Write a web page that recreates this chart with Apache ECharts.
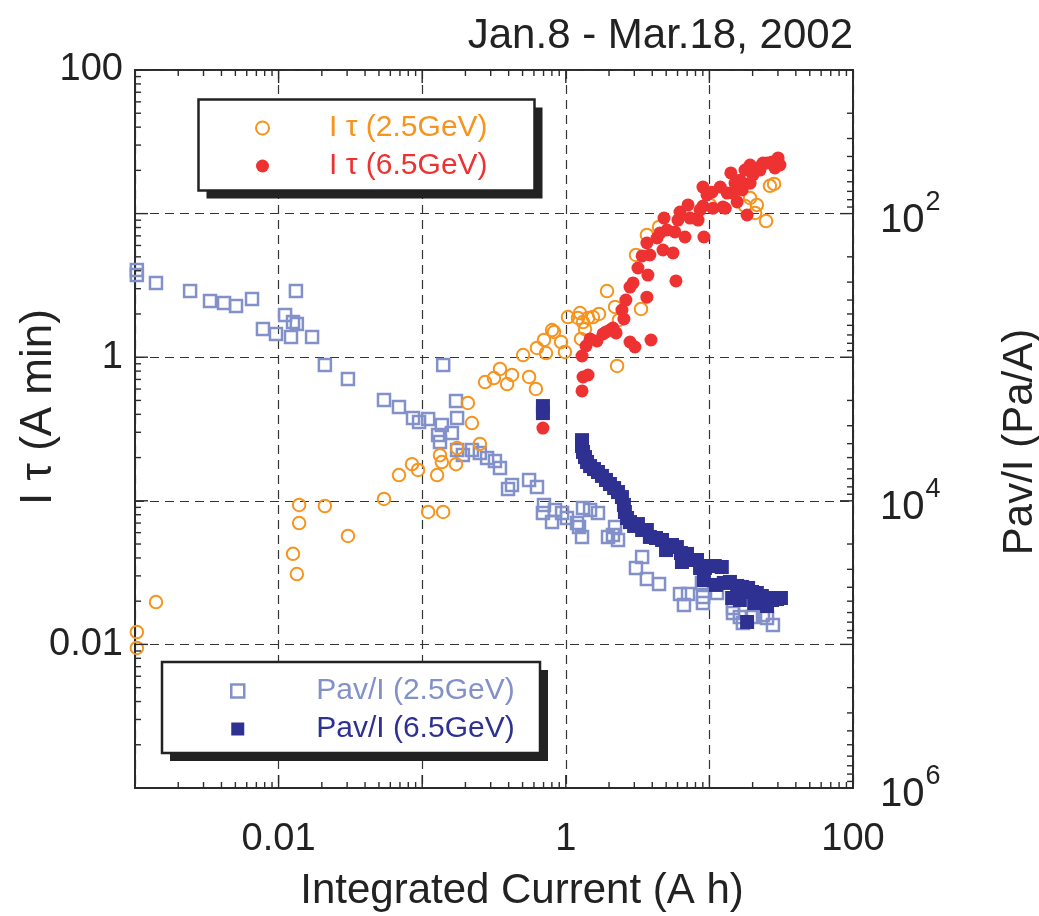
<!DOCTYPE html>
<html><head><meta charset="utf-8">
<script src="https://cdn.jsdelivr.net/npm/echarts@6/dist/echarts.min.js"></script>
<style>html,body{margin:0;padding:0;background:#fff}#c{width:1039px;height:916px}</style>
</head><body><div id="c"></div>
<script>
const FONT = '"Liberation Sans", Arial, Helvetica, sans-serif';
const TXT = '#222';
const AX = '#2b2b2b';
const ORANGE = '#F7941E', RED = '#EE3131', LBLUE = '#8391CB', NAVY = '#2E3192';

const NAME_IT25 = 'I \u03c4 (2.5GeV)';
const NAME_IT65 = 'I \u03c4 (6.5GeV)';
const NAME_P25 = 'Pav/I (2.5GeV)';
const NAME_P65 = 'Pav/I (6.5GeV)';

// I tau (2.5 GeV) : integrated current (A h), I tau (A min)
const it25X = [0.00103,0.00103,0.00140,0.0126,0.0134,0.0139,0.0139,0.0210,0.0304,0.0542,0.110,0.140,0.0689,0.0849,0.0935,0.127,0.133,0.137,0.172,0.175,0.252,0.208,0.222,0.274,0.316,0.348,0.390,0.422,0.555,0.619,0.504,0.630,0.705,0.728,0.802,0.828,0.927,0.986,1.035,1.216,1.256,1.318,1.429,1.545,1.702,1.361,1.276,1.936,2.203,2.344,3.34,2.275,3.08,3.67,4.46,10.1,17.7,19.2,21.4,20.8,24.8,26.4,28.2];
const it25Y = [0.00944,0.0122,0.0197,0.0427,0.0309,0.0700,0.0935,0.0920,0.0569,0.103,0.0836,0.0836,0.151,0.180,0.164,0.151,0.208,0.186,0.180,0.233,0.249,0.480,0.348,0.671,0.716,0.828,0.650,0.752,0.728,0.601,1.035,1.159,1.318,1.069,1.545,1.50,1.276,1.087,1.905,1.875,2.03,1.758,1.875,1.905,2.0,1.57,1.34,2.89,2.24,1.816,2.168,0.869,5.15,7.10,8.07,11.5,11.3,12.85,11.5,10.1,8.87,15.6,16.1];

// I tau (6.5 GeV)
const it65X = [0.693,0.693,1.297,1.318,1.429,1.297,1.383,1.476,1.648,1.816,2.03,2.24,2.80,3.03,3.92,2.54,2.46,2.62,3.67,2.80,2.94,5.85,3.18,3.73,3.40,3.85,3.67,4.32,4.75,5.58,4.53,5.07,5.75,6.76,9.16,4.83,6.04,6.24,7.10,7.33,8.34,8.61,9.02,9.02,9.62,10.4,10.6,12.4,11.9,13.3,14.1,15.1,16.3,17.7,19.2,21.4,23.6,27.3,30.1,31.0,15.6,18.3,16.9,19.2,14.6,20.1,25.2,12.9,1.905,2.13,22.5,28.6];
const it65Y = [0.321,0.422,0.582,0.728,0.752,1.019,1.197,1.34,1.297,1.452,1.545,1.476,1.276,1.178,1.318,1.845,2.13,2.50,2.62,3.08,3.29,3.40,4.18,3.73,5.07,5.15,6.24,6.76,5.58,5.32,7.33,7.69,7.45,6.87,6.87,9.31,9.02,10.26,11.5,9.31,9.02,10.6,11.3,15.3,13.5,14.1,10.9,11.1,15.3,13.9,19.2,16.3,17.1,20.1,21.8,20.8,22.5,22.9,24.4,21.8,12.05,9.78,14.6,16.3,13.9,18.6,22.5,10.9,1.50,1.596,20.1,20.8];

// Pav/I (2.5 GeV) : Pa/A
const p25X = [0.00103,0.00103,0.00140,0.00242,0.00333,0.00417,0.00505,0.00653,0.0132,0.0111,0.0126,0.0134,0.00778,0.00959,0.0122,0.0171,0.0210,0.0304,0.0542,0.0689,0.0863,0.0951,0.110,0.140,0.172,0.175,0.137,0.129,0.133,0.161,0.175,0.192,0.222,0.252,0.283,0.321,0.348,0.396,0.422,0.555,0.630,0.705,0.693,0.802,0.841,0.942,1.019,1.197,1.297,1.318,1.476,1.675,1.236,1.968,2.203,2.13,2.31,3.40,3.08,3.67,4.46,6.24,7.10,6.65,8.87,9.02,9.02,11.3,14.6,16.3,17.1,20.1,23.6,25.2,27.7,14.6];
const p25Y = [247,268,304,346,406,420,440,393,346,508,569,587,637,689,723,723,1132,1419,1986,2223,2650,2825,2692,1132,2018,2650,2966,3483,3898,3373,4426,4797,4426,4645,5035,5281,5910,8279,7762,7161,8017,10690,12160,14060,11590,12160,13180,14290,17860,11220,11590,12160,15210,17860,15210,17300,18750,24600,29380,35070,37940,44570,44570,53210,37330,46770,51520,43850,55800,64420,70960,64420,62370,65460,73280,60400];

// Pav/I (6.5 GeV)
const p65X = [0.693,0.693,1.297,1.297,1.318,1.361,1.406,1.476,1.571,1.675,1.786,1.905,2.03,2.17,2.31,2.46,2.54,2.58,2.67,2.80,2.99,3.18,3.40,3.67,3.85,4.25,4.68,4.99,5.49,5.94,6.34,6.98,6.44,7.57,8.20,8.61,9.31,10.1,9.16,10.9,12.2,11.1,12.6,13.9,14.4,15.6,16.9,18.6,19.8,21.4,23.2,25.2,27.3,29.6,31.5,16.3,20.5,25.2,18.3];
const p65Y = [2190,2450,3780,4150,4570,4960,5370,5730,6010,6300,6710,7160,7640,8150,8690,9420,10690,11970,13180,14060,14970,14520,15970,15970,17860,18160,18750,22030,20320,20990,23110,23440,26680,25830,25830,29380,29380,28440,35650,28440,28910,38550,37330,36730,47530,39170,39810,40460,43150,43850,46030,47530,49090,48310,47530,49090,51520,54050,69830];

const pairs = (xs, ys) => xs.map((v, i) => [v, ys[i]]);

// axis decades (tick structure)
const xDecades = [-3, -2, -1, 0, 1, 2];
const yLeftDecades = [-3, -2, -1, 0, 1, 2];
const yRightDecades = [1, 2, 3, 4, 5, 6];
const MAJOR = 13, MINOR = 6;

function tickList(decades, fixed, asY) {
  const out = [];
  decades.forEach((e, i) => {
    const base = Math.pow(10, e);
    out.push(asY ? [fixed, base, MAJOR] : [base, fixed, MAJOR]);
    if (i < decades.length - 1) {
      for (let k = 2; k <= 9; k++) {
        const v = k * base;
        out.push(asY ? [fixed, v, MINOR] : [v, fixed, MINOR]);
      }
    }
  });
  return out;
}

function line(x1, y1, x2, y2) {
  return {type: 'line', shape: {x1, y1, x2, y2}, style: {stroke: AX, lineWidth: 1.4}};
}
function renderXTicks(params, api) {
  const cs = params.coordSys;
  const p = api.coord([api.value(0), api.value(1)]);
  const L = api.value(2);
  const x = p[0];
  const b = cs.y + cs.height, t = cs.y;
  return {type: 'group', children: [line(x, b, x, b - L), line(x, t, x, t + L)]};
}
function renderLeftTicks(params, api) {
  const cs = params.coordSys;
  const p = api.coord([api.value(0), api.value(1)]);
  const L = api.value(2);
  return line(cs.x, p[1], cs.x + L, p[1]);
}
function renderRightTicks(params, api) {
  const cs = params.coordSys;
  const p = api.coord([api.value(0), api.value(1)]);
  const L = api.value(2);
  const r = cs.x + cs.width;
  return line(r, p[1], r - L, p[1]);
}

function fmtEven(v) {
  const e = Math.round(Math.log10(v));
  if (e % 2 !== 0) return '';
  return e >= 0 ? String(Math.pow(10, e)) : Math.pow(10, e).toFixed(-e);
}
function fmtPow(v) {
  const e = Math.round(Math.log10(v));
  if (e % 2 !== 0) return '';
  return '{b|10}{s|' + e + '}';
}

const chart = echarts.init(document.getElementById('c'), null, {renderer: 'canvas'});
const splitStyle = {show: true, lineStyle: {color: '#333', width: 1.2, type: [9, 6]}};
const legendBase = {
  orient: 'vertical', selectedMode: false, z: 12,
  itemWidth: 13, itemHeight: 13, itemGap: 8, padding: 0,
  backgroundColor: 'transparent', borderWidth: 0
};

// legend frames (decoration): white box with black drop shadow
function frame(x, y, w, h) {
  return [
    {type: 'rect', z: 10, silent: true, shape: {x: x + 8, y: y + 8, width: w, height: h}, style: {fill: '#222'}},
    {type: 'rect', z: 11, silent: true, shape: {x: x, y: y, width: w, height: h}, style: {fill: '#fff', stroke: '#222', lineWidth: 2.5}}
  ];
}

chart.setOption({
  animation: false,
  backgroundColor: '#fff',
  title: {
    text: 'Jan.8 - Mar.18, 2002', right: 186, top: 15, padding: 0,
    textStyle: {fontSize: 42, fontWeight: 'normal', color: TXT, fontFamily: FONT}
  },
  grid: {left: 135, right: 186, top: 70, bottom: 128, show: true, borderColor: AX, borderWidth: 2,
         containLabel: false, outerBoundsMode: 'none'},
  graphic: [].concat(frame(198.5, 99.5, 336, 91), frame(162, 662, 378, 91)),
  legend: [
    Object.assign({}, legendBase, {
      left: 255, top: 113,
      textStyle: {fontSize: 30, lineHeight: 30, fontFamily: FONT, padding: [0, 0, 0, 55]},
      data: [
        {name: NAME_IT25, icon: 'circle', itemStyle: {color: 'rgba(255,255,255,0)', borderColor: ORANGE, borderWidth: 2, opacity: 1}, textStyle: {color: ORANGE}},
        {name: NAME_IT65, icon: 'circle', itemStyle: {color: RED, borderWidth: 0, opacity: 1}, textStyle: {color: RED}}
      ]
    }),
    Object.assign({}, legendBase, {
      left: 230, top: 676,
      textStyle: {fontSize: 30, lineHeight: 30, fontFamily: FONT, padding: [0, 0, 0, 67]},
      data: [
        {name: NAME_P25, icon: 'rect', itemStyle: {color: 'rgba(255,255,255,0)', borderColor: LBLUE, borderWidth: 2.5, opacity: 1}, textStyle: {color: LBLUE}},
        {name: NAME_P65, icon: 'rect', itemStyle: {color: NAVY, borderWidth: 0, opacity: 1}, textStyle: {color: NAVY}}
      ]
    })
  ],
  xAxis: [{
    type: 'log', logBase: 10, min: 0.001, max: 100, position: 'bottom',
    name: 'Integrated Current (A h)', nameLocation: 'middle', nameGap: 82, nameMoveOverlap: false,
    nameTextStyle: {fontSize: 42, color: TXT, fontFamily: FONT, padding: [0, 0, 0, 56]},
    axisLine: {show: true, onZero: false, lineStyle: {color: AX, width: 2}},
    axisTick: {show: false},
    axisLabel: {margin: 33, fontSize: 38, color: TXT, fontFamily: FONT, formatter: fmtEven},
    splitLine: splitStyle
  }],
  yAxis: [{
    type: 'log', logBase: 10, min: 0.001, max: 100, position: 'left',
    name: 'I \u03c4 (A min)', nameLocation: 'middle', nameGap: 74, nameMoveOverlap: false,
    nameTextStyle: {fontSize: 44, color: TXT, fontFamily: FONT, padding: [0, 0, 0, 44]},
    axisLine: {show: true, onZero: false, lineStyle: {color: AX, width: 2}},
    axisTick: {show: false},
    axisLabel: {margin: 12, fontSize: 38, color: TXT, fontFamily: FONT, formatter: fmtEven},
    splitLine: splitStyle
  }, {
    type: 'log', logBase: 10, min: 10, max: 1000000, position: 'right', inverse: true,
    name: 'Pav/I (Pa/A)', nameLocation: 'middle', nameGap: 146, nameMoveOverlap: false,
    nameTextStyle: {fontSize: 42, color: TXT, fontFamily: FONT, padding: [0, 26, 0, 0]},
    axisLine: {show: true, onZero: false, lineStyle: {color: AX, width: 2}},
    axisTick: {show: false},
    axisLabel: {
      margin: 27, color: TXT, fontFamily: FONT, formatter: fmtPow,
      rich: {
        b: {fontSize: 40, fontFamily: FONT, color: TXT, padding: [14, 0, 0, 0]},
        s: {fontSize: 27, fontFamily: FONT, color: TXT, verticalAlign: 'top', padding: [2, 0, 0, 1]}
      }
    },
    splitLine: {show: false}
  }],
  series: [
    {name: 'xticks', type: 'custom', silent: true, z: 5, xAxisIndex: 0, yAxisIndex: 0,
     renderItem: renderXTicks, data: tickList(xDecades, 1, false)},
    {name: 'lticks', type: 'custom', silent: true, z: 5, xAxisIndex: 0, yAxisIndex: 0,
     renderItem: renderLeftTicks, data: tickList(yLeftDecades, 1, true)},
    {name: 'rticks', type: 'custom', silent: true, z: 5, xAxisIndex: 0, yAxisIndex: 1,
     renderItem: renderRightTicks, data: tickList(yRightDecades, 1, true)},
    {name: NAME_P25, type: 'scatter', yAxisIndex: 1, symbol: 'rect', symbolSize: 12, silent: true, z: 2,
     itemStyle: {color: 'rgba(255,255,255,0)', borderColor: LBLUE, borderWidth: 2.5, opacity: 1},
     data: pairs(p25X, p25Y)},
    {name: NAME_IT25, type: 'scatter', yAxisIndex: 0, symbol: 'circle', symbolSize: 12.5, silent: true, z: 3,
     itemStyle: {color: 'rgba(255,255,255,0)', borderColor: ORANGE, borderWidth: 2, opacity: 1},
     data: pairs(it25X, it25Y)},
    {name: NAME_IT65, type: 'scatter', yAxisIndex: 0, symbol: 'circle', symbolSize: 13, silent: true, z: 3,
     itemStyle: {color: RED, opacity: 1},
     data: pairs(it65X, it65Y)},
    {name: NAME_P65, type: 'scatter', yAxisIndex: 1, symbol: 'rect', symbolSize: 14, silent: true, z: 4,
     itemStyle: {color: NAVY, opacity: 1},
     data: pairs(p65X, p65Y)}
  ]
});
</script></body></html>
